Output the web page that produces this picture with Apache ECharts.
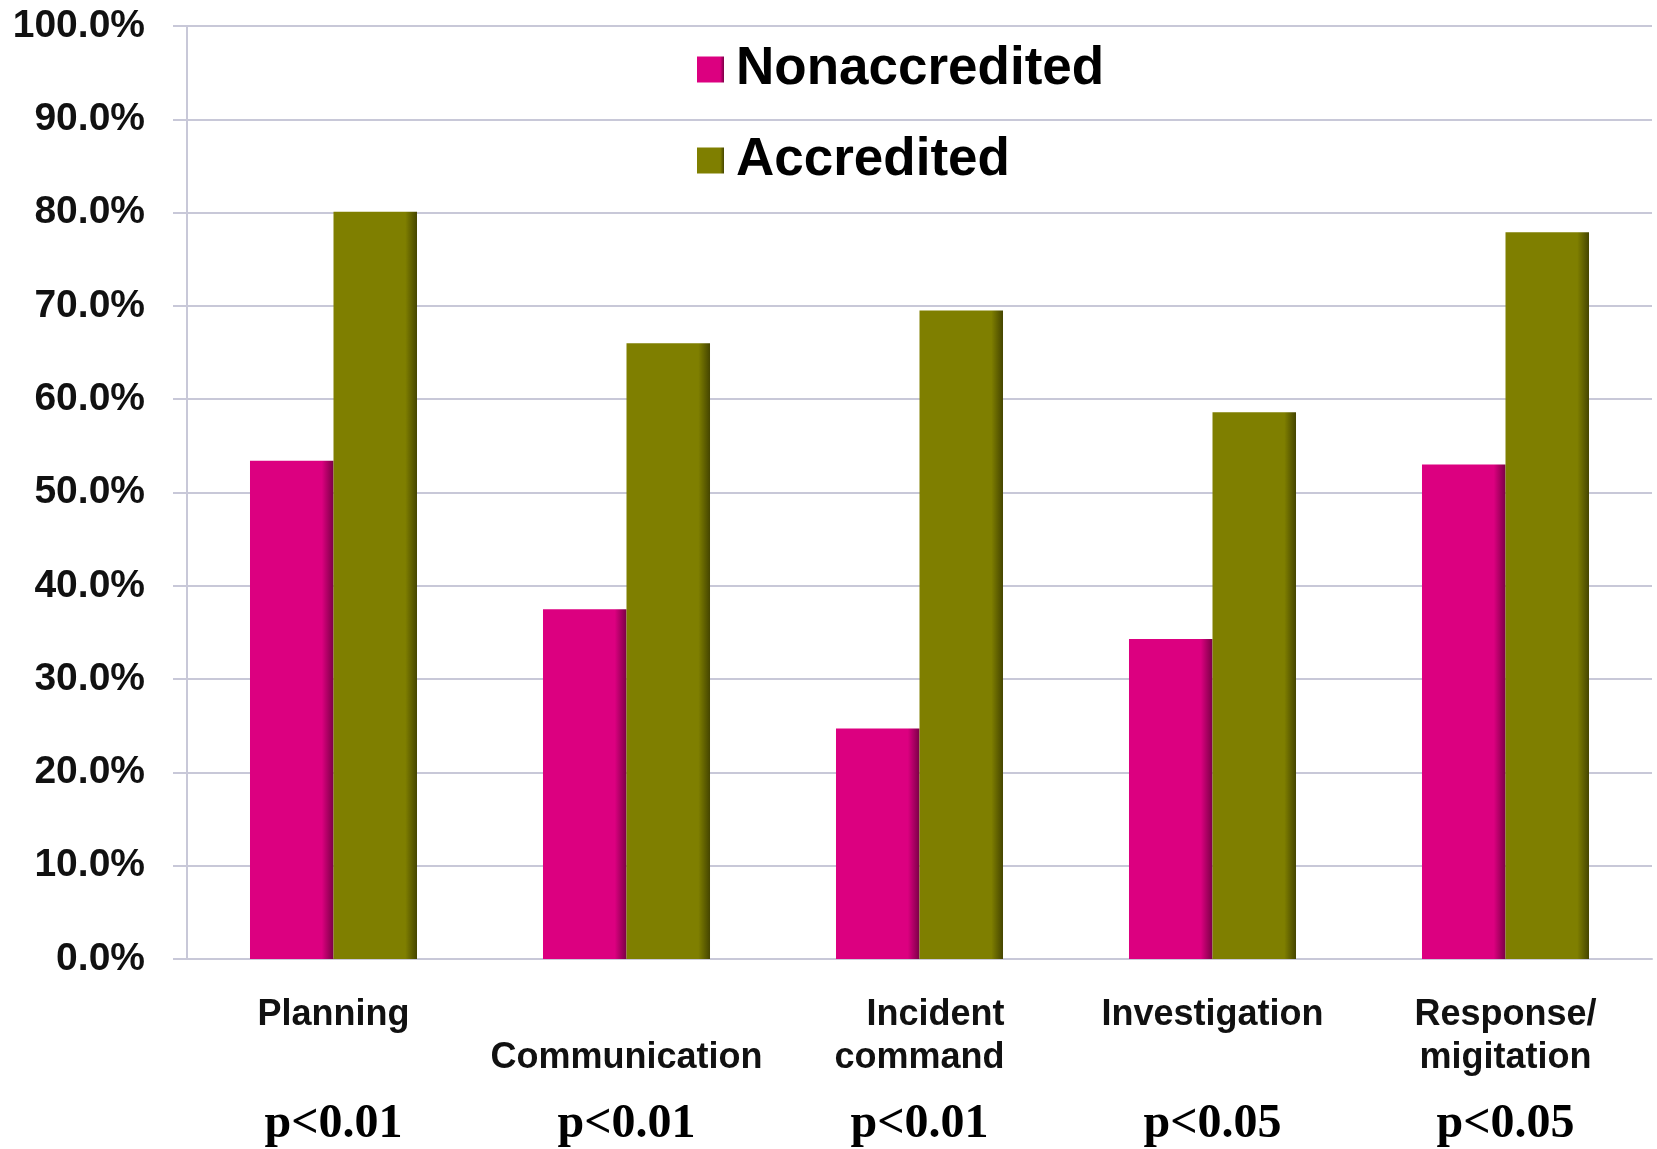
<!DOCTYPE html>
<html>
<head>
<meta charset="utf-8">
<script src="https://cdn.jsdelivr.net/npm/echarts@6/dist/echarts.min.js"></script>
<style>
  html, body { margin: 0; padding: 0; background: #fff; }
  #chart { width: 1657px; height: 1149px; }
</style>
</head>
<body>
<div id="chart"></div>
<script>
// categories (line breaks as in the original axis)
const categories = ['Planning', '\nCommunication', 'Incident\ncommand', 'Investigation', 'Response/\nmigitation']
const pValues = ['p<0.01', 'p<0.01', 'p<0.01', 'p<0.05', 'p<0.05']
const nonaccredited = [53.4, 37.5, 24.7, 34.3, 53.0]
const accredited = [80.1, 66.0, 69.5, 58.6, 77.9]
const seriesNames = ['Nonaccredited', 'Accredited']

const gridColor = '#c8c8d8'

function shade(main, dark) {
  return new echarts.graphic.LinearGradient(0, 0, 1, 0, [
    { offset: 0, color: main },
    { offset: 0.86, color: main },
    { offset: 1, color: dark }
  ])
}

const chart = echarts.init(document.getElementById('chart'))

chart.setOption({
  animation: false,
  textStyle: { fontFamily: 'Liberation Sans, Arial, sans-serif' },
  grid: { left: 187, right: 5, top: 26, bottom: 188 },
  legend: {
    orient: 'vertical',
    left: 692,
    top: 38,
    itemWidth: 27,
    itemHeight: 26,
    itemGap: 38,
    icon: 'rect',
    data: seriesNames,
    textStyle: {
      fontSize: 53,
      fontWeight: 'bold',
      color: '#000',
      padding: [0, 0, 0, 7]
    }
  },
  xAxis: {
    type: 'category',
    data: categories,
    axisLine: { lineStyle: { color: gridColor, width: 2 } },
    axisTick: { length: 14, lineStyle: { color: gridColor, width: 2 } },
    axisLabel: {
      interval: 0,
      margin: 35,
      formatter: function(value, index) {
        const lines = value.split('\n')
        while (lines.length < 2) lines.push('')
        // "Incident" sits flush right over "command"
        const first = lines[0] === '' ? '{a| }' : (lines[0] === 'Incident' ? '{r|' + lines[0] + '}' : '{a|' + lines[0] + '}')
        const second = lines[1] === '' ? '{a| }' : '{a|' + lines[1] + '}'
        return first + '\n' + second + '\n{p|' + pValues[index] + '}'
      },
      rich: {
        a: {
          fontSize: 36,
          fontWeight: 'bold',
          color: '#111',
          lineHeight: 43,
          fontFamily: 'Liberation Sans, Arial, sans-serif'
        },
        r: {
          fontSize: 36,
          fontWeight: 'bold',
          color: '#111',
          lineHeight: 43,
          align: 'right',
          fontFamily: 'Liberation Sans, Arial, sans-serif'
        },
        p: {
          fontSize: 48,
          fontWeight: 'bold',
          color: '#000',
          lineHeight: 90,
          fontFamily: 'Liberation Serif, Times New Roman, serif'
        }
      }
    }
  },
  yAxis: {
    type: 'value',
    min: 0,
    max: 100,
    interval: 10,
    axisLine: { show: true, lineStyle: { color: gridColor, width: 2 } },
    axisTick: { show: true, length: 14, lineStyle: { color: gridColor, width: 2 } },
    splitLine: { lineStyle: { color: gridColor, width: 2 } },
    axisLabel: {
      margin: 42,
      fontSize: 39,
      fontWeight: 'bold',
      color: '#111',
      formatter: function(v) {
        return v.toFixed(1) + '%'
      }
    }
  },
  series: [
    {
      name: seriesNames[0],
      type: 'bar',
      data: nonaccredited,
      barGap: '0%',
      barCategoryGap: '43%',
      itemStyle: { color: shade('#dc0080', '#7a0046') }
    },
    {
      name: seriesNames[1],
      type: 'bar',
      data: accredited,
      itemStyle: { color: shade('#7f7f00', '#454500') }
    }
  ]
})
</script>
</body>
</html>
